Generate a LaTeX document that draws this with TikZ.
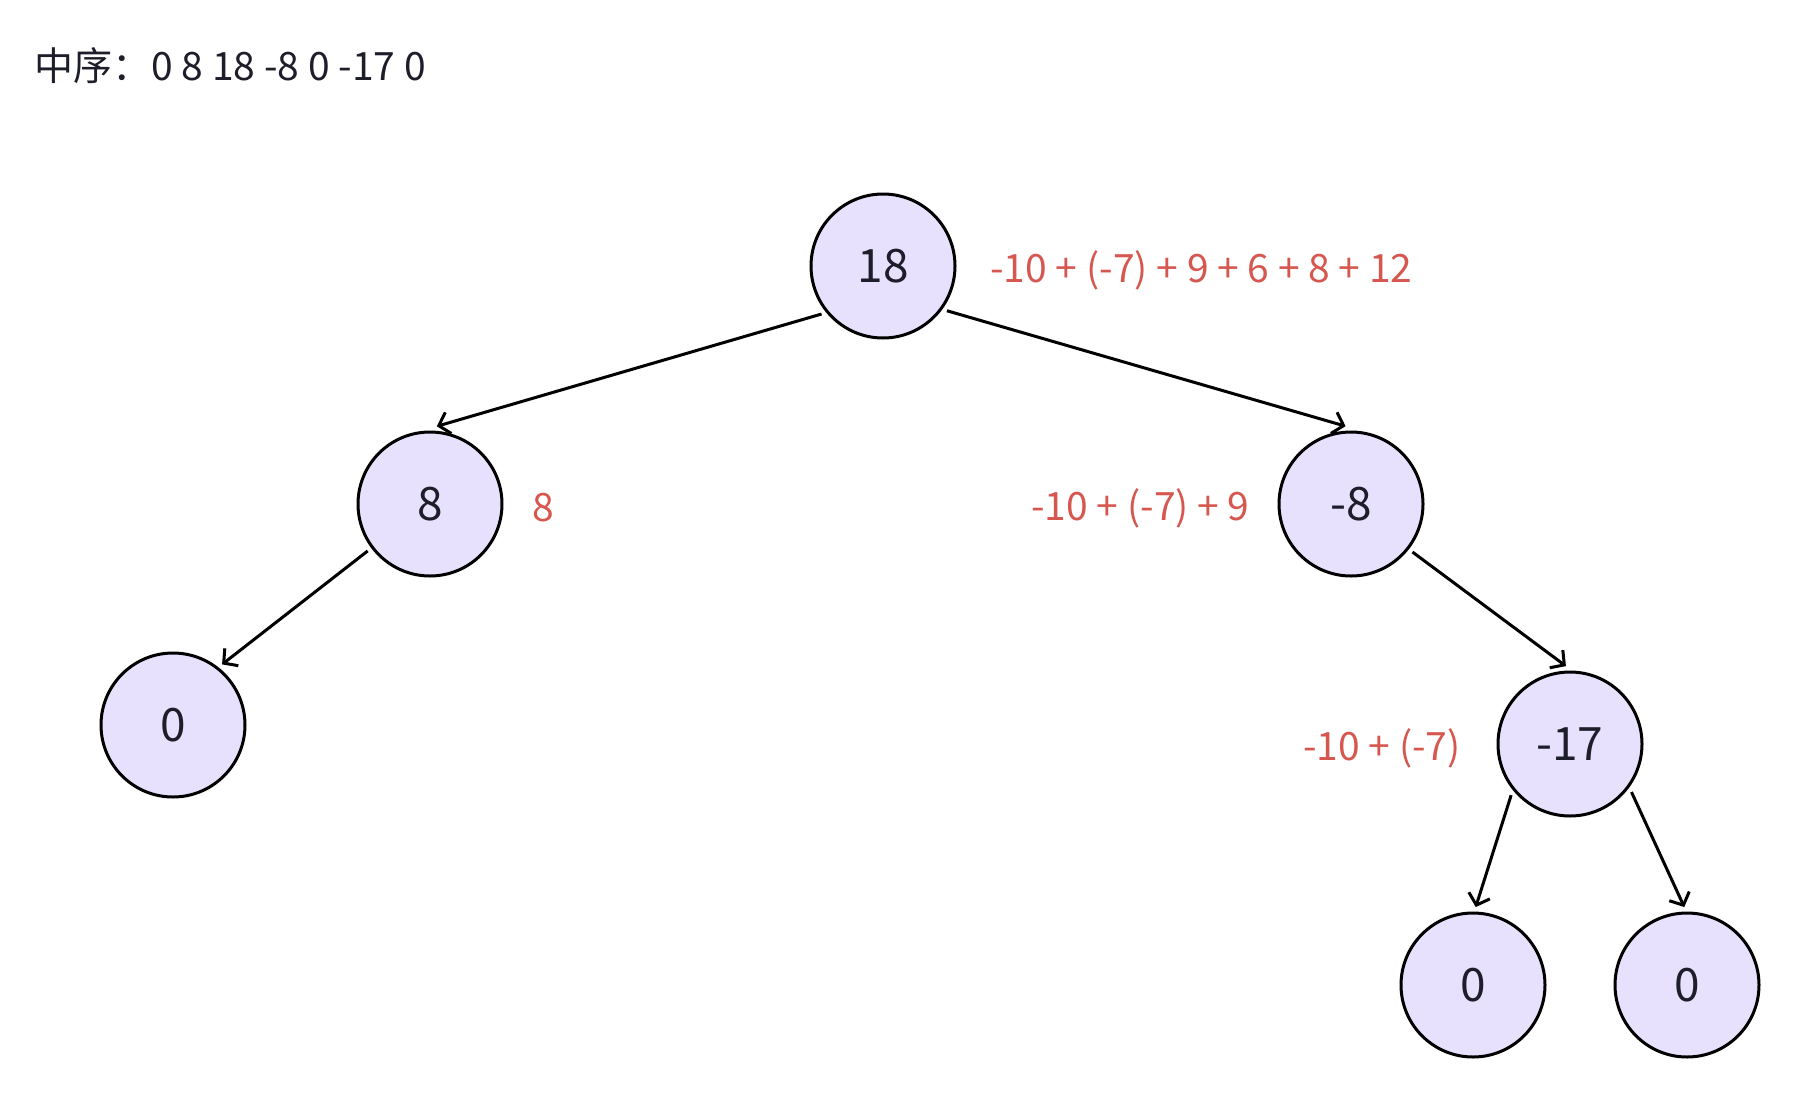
\documentclass[tikz,border=0pt]{standalone}
\usepackage{fontspec}
\setmainfont{Noto Sans CJK SC}
\usetikzlibrary{arrows.meta}
\definecolor{ink}{HTML}{1E1E2A}
\definecolor{nodebg}{HTML}{E8E1FD}
\definecolor{sumred}{HTML}{D6574F}

\begin{document}
\begin{tikzpicture}[x=.5pt,y=-.5pt,text=ink,
  tnode/.style={circle,draw=black,fill=nodebg,line width=1.5pt,
    minimum size=72pt,inner sep=0pt,outer sep=3pt,
    font=\fontsize{23}{27}\selectfont},
  sum/.style={text=sumred,inner sep=0pt,font=\fontsize{19.5}{23}\selectfont},
  head/.style={anchor=west,inner sep=0pt,font=\fontsize{19.5}{23}\selectfont},
  flow/.style={-{Straight Barb[length=5pt,width=11pt]},line width=1.5pt,draw=black}]
\useasboundingbox (0,0) rectangle (1795,1098);

% heading: in-order sequence
\node[head] (title) at (34,66) {中序：0 8 18 -8 0 -17 0};

% tree nodes
\node[tnode] (root) at (883,266) {\raisebox{-1.5pt}{18}};
\node[tnode] (n8) at (430,504) {\raisebox{-1.5pt}{8}};
\node[tnode] (n0a) at (173,725) {\raisebox{-1.5pt}{0}};
\node[tnode] (nm8) at (1351,504) {\raisebox{-1.5pt}{-8}};
\node[tnode] (nm17) at (1570,744) {\raisebox{-1.5pt}{-17}};
\node[tnode] (n0b) at (1473,985) {\raisebox{-1.5pt}{0}};
\node[tnode] (n0c) at (1687,985) {\raisebox{-1.5pt}{0}};

% sums beside the nodes
\node[sum,anchor=west] (sroot) at (990,270) {-10 + (-7) + 9 + 6 + 8 + 12};
\node[sum,anchor=west] (s8) at (532,508) {8};
\node[sum,anchor=east] (sm8) at (1250,508) {-10 + (-7) + 9};
\node[sum,anchor=east] (sm17) at (1461,748) {-10 + (-7)};

% edges
\draw[flow] (root.218)--(n8.85);
\draw[flow] (root.325)--(nm8.94);
\draw[flow] (n8.217)--(n0a.51);
\draw[flow] (nm8.322)--(nm17.93);
\draw[flow] (nm17.221)--(n0b.88);
\draw[flow] (nm17.322)--(n0c.92);
\end{tikzpicture}
\end{document}
